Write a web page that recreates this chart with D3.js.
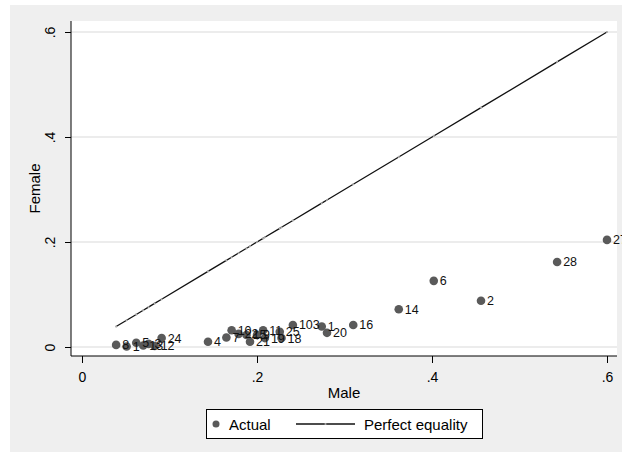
<!DOCTYPE html>
<html><head><meta charset="utf-8">
<script src="https://cdn.jsdelivr.net/npm/d3@7"></script>
<style>
html,body{margin:0;padding:0;background:#fff;}
text{font-family:"Liberation Sans",Arial,sans-serif;}
</style></head>
<body>
<svg id="c" width="622" height="456"></svg>
<script>
const labels = ["8","1","5","13","3","12","24","4","7","10","22","15","21","9","11","19","25","18","103","1","20","16","14","6","2","28","27"];
const male   = [0.039,0.051,0.062,0.070,0.076,0.083,0.091,0.144,0.165,0.171,0.179,0.188,0.192,0.200,0.207,0.209,0.226,0.228,0.241,0.274,0.280,0.310,0.362,0.402,0.456,0.543,0.600];
const female = [0.004,0.001,0.008,0.003,0.006,0.002,0.017,0.010,0.018,0.032,0.025,0.023,0.010,0.023,0.032,0.017,0.029,0.017,0.042,0.039,0.027,0.042,0.072,0.126,0.088,0.162,0.204];
const xTicks = [0,0.2,0.4,0.6];
const yTicks = [0,0.2,0.4,0.6];
const tickFmt = v => v===0 ? "0" : String(v).replace(/^0/,"");

const svg = d3.select("#c");
svg.append("rect").attr("x",10).attr("y",5).attr("width",612).attr("height",447).attr("fill","#efefef");
const plot = {l:71, t:21, r:617, b:356};
svg.append("rect").attr("x",plot.l).attr("y",plot.t).attr("width",plot.r-plot.l).attr("height",plot.b-plot.t).attr("fill","#fff");

const x = d3.scaleLinear().domain([0,0.6]).range([82,607]);
const y = d3.scaleLinear().domain([0,0.6]).range([347,32]);

// gridlines
svg.append("g").selectAll("line").data(yTicks).join("line")
  .attr("x1",plot.l).attr("x2",plot.r).attr("y1",d=>y(d)).attr("y2",d=>y(d))
  .attr("stroke","#e6e6e6").attr("stroke-width",1.3);

// axes
const yAxis = svg.append("g").attr("transform",`translate(${plot.l},0)`)
  .call(d3.axisLeft(y).tickValues(yTicks).tickFormat(tickFmt).tickSize(6).tickSizeOuter(0));
yAxis.select(".domain").attr("d",`M0,${plot.t}V${plot.b}`);
yAxis.selectAll(".tick text").attr("transform","rotate(-90)").attr("x",0).attr("y",-16)
  .attr("dy","0").attr("text-anchor","middle").attr("font-size",14).attr("fill","#000");

const xAxis = svg.append("g").attr("transform",`translate(0,${plot.b})`)
  .call(d3.axisBottom(x).tickValues(xTicks).tickFormat(tickFmt).tickSize(7).tickSizeOuter(0));
xAxis.select(".domain").attr("d",`M${plot.l},0H${plot.r}`);
xAxis.selectAll(".tick text").attr("y",26).attr("dy","0").attr("font-size",14).attr("fill","#000");
svg.selectAll(".domain").attr("stroke","#000");
svg.selectAll(".tick line").attr("stroke","#000");

// axis titles
svg.append("text").attr("x",(plot.l+plot.r)/2).attr("y",398).attr("text-anchor","middle")
  .attr("font-size",15).text("Male");
svg.append("text").attr("transform",`translate(40,${(plot.t+plot.b)/2}) rotate(-90)`)
  .attr("text-anchor","middle").attr("font-size",15).text("Female");

// perfect equality line
const linePts = male.map(m=>[m,m]);
svg.append("path").datum(linePts).attr("fill","none").attr("stroke","#111").attr("stroke-width",1.3)
  .attr("d",d3.line().x(d=>x(d[0])).y(d=>y(d[1])));
svg.append("g").selectAll("circle").data(linePts).join("circle")
  .attr("cx",d=>x(d[0])).attr("cy",d=>y(d[1])).attr("r",1.1).attr("fill","#aaa");

// points
const pts = male.map((m,i)=>({m, f:female[i], lab:labels[i]}));
svg.append("g").selectAll("circle").data(pts).join("circle")
  .attr("cx",d=>x(d.m)).attr("cy",d=>y(d.f)).attr("r",4.3).attr("fill","#5a5a5a");
svg.append("g").selectAll("text").data(pts).join("text")
  .attr("x",d=>x(d.m)+6).attr("y",d=>y(d.f)+4.5).attr("font-size",12.5).attr("fill","#111").text(d=>d.lab);

// legend
const lg = svg.append("g");
lg.append("rect").attr("x",206.5).attr("y",409.5).attr("width",276).attr("height",29)
  .attr("fill","#fff").attr("stroke","#000").attr("stroke-width",1);
lg.append("circle").attr("cx",216).attr("cy",424).attr("r",3.5).attr("fill","#5a5a5a");
lg.append("text").attr("x",229).attr("y",429.5).attr("font-size",15).text("Actual");
lg.append("line").attr("x1",296).attr("x2",355).attr("y1",424).attr("y2",424).attr("stroke","#111").attr("stroke-width",1.3);
lg.append("circle").attr("cx",325.5).attr("cy",424).attr("r",1.1).attr("fill","#aaa");
lg.append("text").attr("x",364).attr("y",429.5).attr("font-size",15).text("Perfect equality");
</script>
</body></html>
